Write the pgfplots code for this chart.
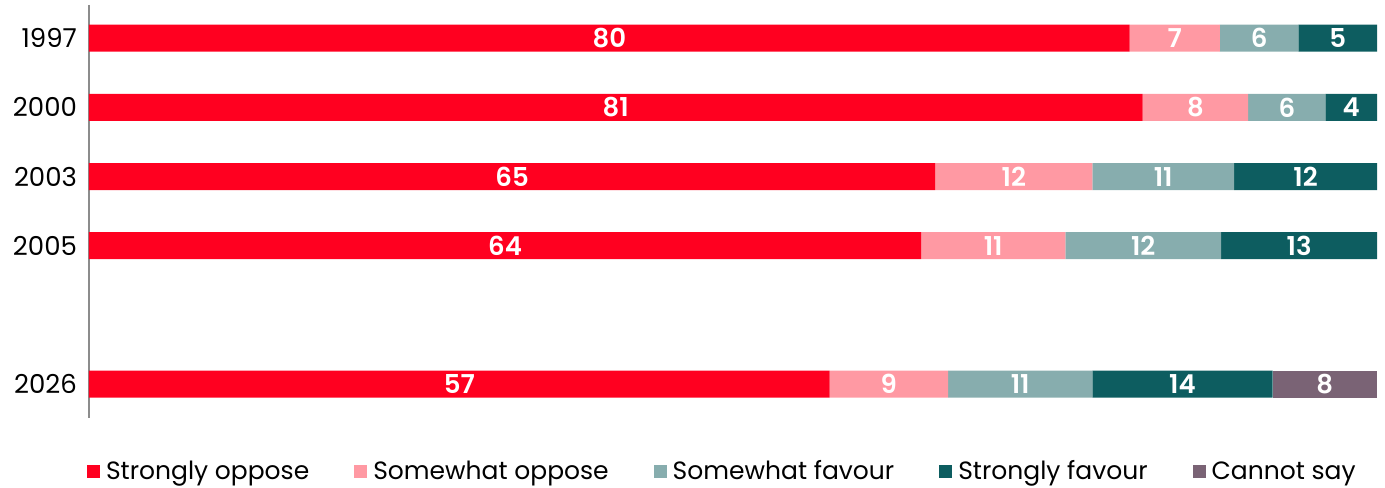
\documentclass[border=0pt]{standalone}
\usepackage{pgfplots}
\usepackage{pgfplotstable}
\pgfplotsset{compat=1.18}
\usepackage{fontspec}
\setmainfont{Poppins}[BoldFont={Poppins SemiBold}]

\definecolor{sopp}{RGB}{255,0,32}
\definecolor{wopp}{RGB}{255,153,163}
\definecolor{wfav}{RGB}{135,173,174}
\definecolor{sfav}{RGB}{13,93,96}
\definecolor{csay}{RGB}{122,99,117}

% y: 0=1997, 1=2000, 2=2003, 3=2005, 5=2026; w = bar share, lab = printed value
\pgfplotstableread{
y w lab
0 80.8 80
1 81.8 81
2 65.7 65
3 64.6 64
5 57.5 57
}\stronglyoppose
\pgfplotstableread{
y w lab
0 7.0 7
1 8.2 8
2 12.2 12
3 11.2 11
5 9.2 9
}\somewhatoppose
\pgfplotstableread{
y w lab
0 6.1 6
1 6.0 6
2 11.0 11
3 12.1 12
5 11.2 11
}\somewhatfavour
\pgfplotstableread{
y w lab
0 6.1 5
1 4.0 4
2 11.1 12
3 12.1 13
5 14.0 14
}\stronglyfavour
\pgfplotstableread{
y w lab
0 0 {}
1 0 {}
2 0 {}
3 0 {}
5 8.1 8
}\cannotsay

\pgfplotsset{
  seg/.style={
    fill=#1, draw=none,
    nodes near coords,
    point meta=explicit symbolic,
    every node near coord/.append style={
      anchor=center, text=white, font=\fontsize{13}{14}\selectfont\bfseries},
    legend image code/.code={\fill[fill=#1] (0pt,-3.25pt) rectangle (6.5pt,3.25pt);},
  },
}

\begin{document}
\begin{tikzpicture}
\useasboundingbox (-44.5pt,-34.5pt) rectangle (648pt,209pt);
\begin{axis}[
  at={(0,0)}, anchor=south west,
  scale only axis,
  width=644pt, height=206.5pt,
  xbar stacked,
  bar width=13.5pt,
  xmin=0, xmax=100,
  ymin=-0.48, ymax=5.49,
  y dir=reverse,
  ytick={0,1,2,3,5},
  yticklabels={1997,2000,2003,2005,2026},
  yticklabel style={font=\fontsize{13}{14}\selectfont, xshift=-2.5pt},
  ytick style={draw=none},
  hide x axis,
  axis y line*=left,
  y axis line style={-, draw=gray!90, line width=0.6pt},
  legend columns=5,
  legend style={draw=none, fill=none, at={(0.4925,-0.13)}, anchor=center,
    font=\fontsize{12.5}{14}\selectfont,
    /tikz/every even column/.append style={column sep=20.5pt},
    /tikz/every odd column/.append style={column sep=1pt}},
  clip=false,
]
\addplot[seg=sopp] table[x=w, y=y, meta=lab] {\stronglyoppose};
\addlegendentry{Strongly oppose}
\addplot[seg=wopp] table[x=w, y=y, meta=lab] {\somewhatoppose};
\addlegendentry{Somewhat oppose}
\addplot[seg=wfav] table[x=w, y=y, meta=lab] {\somewhatfavour};
\addlegendentry{Somewhat favour}
\addplot[seg=sfav] table[x=w, y=y, meta=lab] {\stronglyfavour};
\addlegendentry{Strongly favour}
\addplot[seg=csay] table[x=w, y=y, meta=lab] {\cannotsay};
\addlegendentry{Cannot say}
\end{axis}
\end{tikzpicture}
\end{document}
